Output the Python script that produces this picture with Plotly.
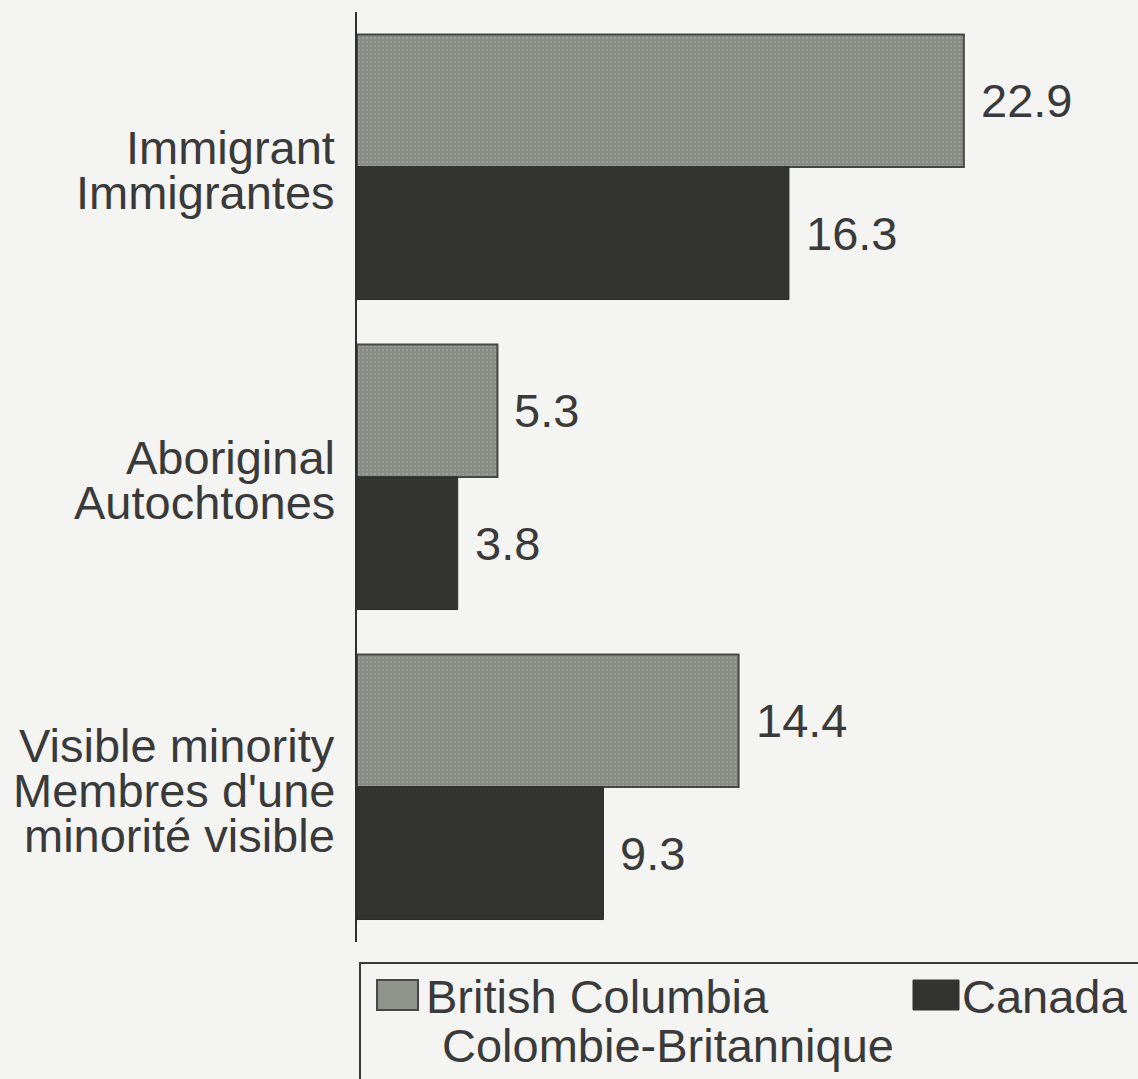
import plotly.graph_objects as go

# Category labels (English / French), one list of lines per group
categories = ["Immigrant", "Aboriginal", "Visible minority"]
category_lines = [
    ["Immigrant", "Immigrantes"],
    ["Aboriginal", "Autochtones"],
    ["Visible minority", "Membres d'une", "minorité visible"],
]

# Percent of population
bc_values = [22.9, 5.3, 14.4]
canada_values = [16.3, 3.8, 9.3]

series_names = ["British Columbia<br>Colombie-Britannique", "Canada"]

# Figure geometry
W, H = 1138, 1079
ML, MR, MT, MB = 357, 8, 12, 137
PX_PER_UNIT = 26.5
X_MAX = (W - ML - MR) / PX_PER_UNIT
BARGAP = 0.145

BG = "#f4f4f2"
TEXT = "#3a3a3a"
BC_BG = "#878b84"
BC_DOT = "#a9ada6"
CAN = "#333431"
FONT = "Liberation Sans, Arial, Helvetica, sans-serif"
FS = 47

fig = go.Figure()
fig.add_trace(go.Bar(
    y=categories, x=bc_values, orientation="h", name=series_names[0],
    marker=dict(color=BC_BG, line=dict(color="#474845", width=2),
                pattern=dict(shape=".", bgcolor=BC_BG, fgcolor=BC_DOT,
                             size=4, solidity=0.35)),
    showlegend=False, hoverinfo="skip",
))
fig.add_trace(go.Bar(
    y=categories, x=canada_values, orientation="h", name=series_names[1],
    marker=dict(color=CAN, line=dict(color="#2c2d2a", width=1)),
    showlegend=False, hoverinfo="skip",
))

annotations = []

# Value labels just past the end of each bar
half = (1 - BARGAP) / 4
for i, (b, c) in enumerate(zip(bc_values, canada_values)):
    for v, off in ((b, -half), (c, half)):
        annotations.append(dict(
            x=v, y=i + off, xref="x", yref="y", text=f"{v:.1f}",
            showarrow=False, xanchor="left", yanchor="middle", xshift=15,
            font=dict(family=FONT, size=FS, color=TEXT),
        ))

# Multi-line category labels, right-aligned against the axis
LINE_H = 45
for i, lines in enumerate(category_lines):
    n = len(lines)
    for k, line in enumerate(lines):
        annotations.append(dict(
            x=0, y=i, xref="paper", yref="y", text=line,
            showarrow=False, xanchor="right", yanchor="middle",
            xshift=-20, yshift=((n - 1) / 2 - k) * LINE_H - 3,
            font=dict(family=FONT, size=FS, color=TEXT),
        ))

# Pixel -> paper coordinate helpers for the legend block
PW, PH = W - ML - MR, H - MT - MB


def px(x):
    return (x - ML) / PW


def py(y):
    return (H - MB - y) / PH


shapes = [
    # legend frame
    dict(type="rect", xref="paper", yref="paper",
         x0=px(360), x1=px(1160), y0=py(1100), y1=py(963),
         line=dict(color="#3a3a3a", width=2), fillcolor="rgba(0,0,0,0)"),
    # legend swatches
    dict(type="rect", xref="paper", yref="paper",
         x0=px(377), x1=px(418), y0=py(1010), y1=py(980),
         line=dict(color="#474845", width=2), fillcolor="#8f938c"),
    dict(type="rect", xref="paper", yref="paper",
         x0=px(913), x1=px(959), y0=py(1010), y1=py(980),
         line=dict(color=CAN, width=1), fillcolor=CAN),
]

annotations += [
    dict(x=px(424), y=py(996), xref="paper", yref="paper",
         text="British Columbia", showarrow=False, xanchor="left",
         yanchor="middle", font=dict(family=FONT, size=FS, color=TEXT)),
    dict(x=px(440), y=py(1045), xref="paper", yref="paper",
         text="Colombie-Britannique", showarrow=False, xanchor="left",
         yanchor="middle", font=dict(family=FONT, size=FS, color=TEXT)),
    dict(x=px(960), y=py(996), xref="paper", yref="paper",
         text="Canada", showarrow=False, xanchor="left",
         yanchor="middle", font=dict(family=FONT, size=FS, color=TEXT)),
]

fig.update_layout(
    width=W, height=H,
    margin=dict(l=ML, r=MR, t=MT, b=MB, pad=0),
    paper_bgcolor=BG, plot_bgcolor=BG,
    barmode="group", bargap=BARGAP, bargroupgap=0,
    showlegend=False,
    xaxis=dict(range=[0, X_MAX], visible=False, showgrid=False, zeroline=False),
    yaxis=dict(autorange="reversed", showticklabels=False, ticks="",
               showgrid=False, zeroline=False, showline=True,
               linecolor="#2f2f2f", linewidth=2),
    annotations=annotations,
    shapes=shapes,
    font=dict(family=FONT, size=FS, color=TEXT),
)

fig.write_html("out.html")
